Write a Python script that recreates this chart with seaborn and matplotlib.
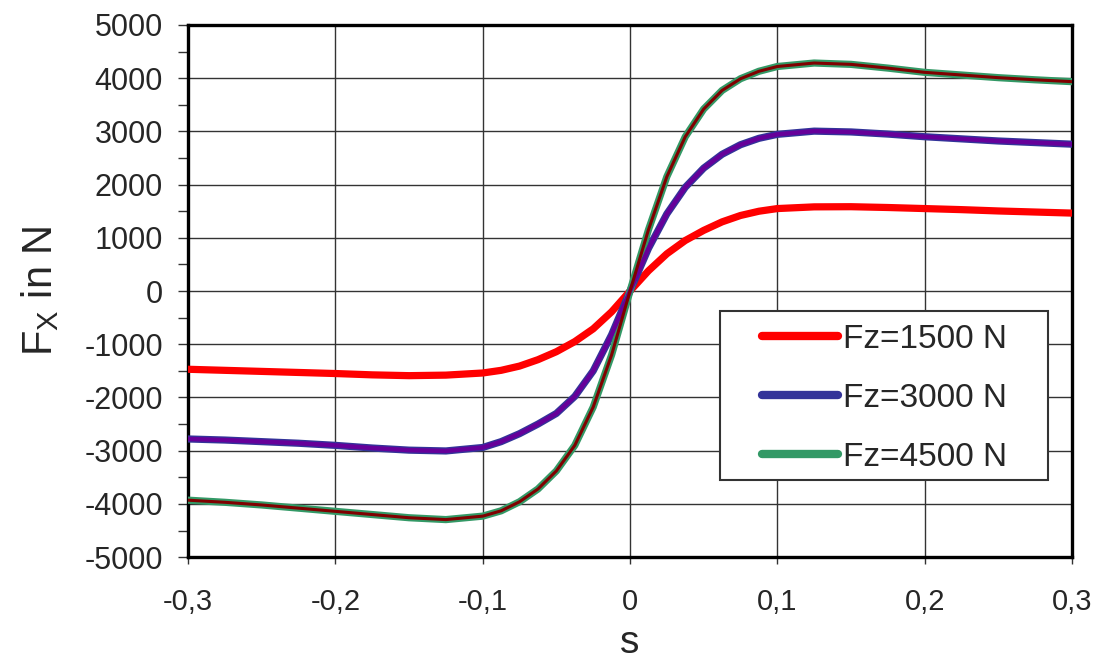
import numpy as np
import pandas as pd
import matplotlib
matplotlib.use("Agg")
import matplotlib.pyplot as plt
import seaborn as sns
from matplotlib.patches import Rectangle
from matplotlib.ticker import FuncFormatter, MultipleLocator

# ---- data ----
slip = [-0.3, -0.275, -0.25, -0.225, -0.2, -0.175, -0.15, -0.125, -0.1, -0.0875,
        -0.075, -0.0625, -0.05, -0.0375, -0.025, -0.0125, 0.0,
        0.0125, 0.025, 0.0375, 0.05, 0.0625, 0.075, 0.0875, 0.1,
        0.125, 0.15, 0.175, 0.2, 0.225, 0.25, 0.275, 0.3]

fx_1500 = [-1470, -1490, -1510, -1530, -1550, -1575, -1590, -1580, -1540, -1490,
           -1410, -1290, -1140, -950, -710, -390, 0,
           380, 700, 950, 1140, 1300, 1420, 1500, 1550,
           1582, 1585, 1570, 1550, 1530, 1505, 1485, 1465]

fx_3000 = [-2780, -2800, -2830, -2860, -2900, -2950, -2990, -3005, -2940, -2830,
           -2680, -2500, -2300, -1980, -1500, -820, 0,
           800, 1450, 1950, 2310, 2570, 2750, 2870, 2945,
           3005, 2990, 2950, 2900, 2860, 2820, 2790, 2760]

fx_4500 = [-3930, -3970, -4020, -4080, -4140, -4200, -4260, -4295, -4230, -4130,
           -3960, -3720, -3380, -2900, -2180, -1200, 0,
           1150, 2150, 2900, 3420, 3770, 3990, 4130, 4220,
           4285, 4260, 4190, 4110, 4060, 4010, 3970, 3935]

labels = ["Fz=1500 N", "Fz=3000 N", "Fz=4500 N"]
series = [fx_1500, fx_3000, fx_4500]
colors = ["#ff0000", "#333399", "#339966"]
overlay_colors = [None, "#660099", "#800000"]

xticks = [-0.3, -0.2, -0.1, 0.0, 0.1, 0.2, 0.3]
yticks = list(range(-5000, 5001, 1000))

df = pd.concat([pd.DataFrame({"s": slip, "Fx": v, "Fz": lab})
                for v, lab in zip(series, labels)], ignore_index=True)

sns.set_theme(style="white")
plt.rcParams["font.family"] = ["Liberation Sans", "DejaVu Sans"]
plt.rcParams["mathtext.fontset"] = "custom"
plt.rcParams["mathtext.rm"] = "Liberation Sans"

fig = plt.figure(figsize=(11, 6.68), dpi=100)
ax = fig.add_axes([0.171, 0.166, 0.8035, 0.7966])

sns.lineplot(data=df, x="s", y="Fx", hue="Fz", palette=dict(zip(labels, colors)),
             linewidth=5.2, ax=ax, sort=True, zorder=3)

# inner core colours as seen on the reference
for v, oc, lw in zip(series, overlay_colors, [0, 3.2, 2.2]):
    if oc is not None:
        ax.plot(slip, v, color=oc, linewidth=lw, zorder=4, solid_capstyle="round")

ax.set_xlim(-0.3, 0.3)
ax.set_ylim(-5000, 5000)
ax.set_xticks(xticks)
ax.set_yticks(yticks)
ax.yaxis.set_minor_locator(MultipleLocator(500))
ax.xaxis.set_major_formatter(FuncFormatter(
    lambda v, p: "0" if abs(v) < 1e-9 else f"{v:.1f}".replace(".", ",")))
ax.yaxis.set_major_formatter(FuncFormatter(lambda v, p: f"{int(round(v))}"))

ax.grid(True, which="major", color="#333333", linewidth=1.0)
ax.set_axisbelow(True)
for sp in ax.spines.values():
    sp.set_color("black")
    sp.set_linewidth(2.4)

ax.tick_params(axis="y", which="both", direction="out", length=7, width=1,
               color="#333333", labelsize=22, pad=11, left=True)
ax.tick_params(axis="x", which="major", direction="out", length=5, width=1,
               color="#333333", labelsize=21, pad=17, bottom=True)

ax.set_xlabel("s", fontsize=28, labelpad=7)
ax.set_ylabel(r"$\mathregular{F_X}$ in N", fontsize=30, labelpad=17)

# legend frame (drawn separately for exact placement)
ax.add_patch(Rectangle((0.6018, 0.1447), 0.371, 0.3177, transform=ax.transAxes,
                       facecolor="white", edgecolor="#333333", linewidth=1.5,
                       zorder=5, clip_on=False))
leg = ax.legend(loc="center left", bbox_to_anchor=(0.649, 0.299), fontsize=24,
                frameon=False, handlelength=2.3, handletextpad=0.15,
                labelspacing=0.84, borderpad=0, borderaxespad=0)
leg.set_zorder(6)
for line in leg.get_lines():
    line.set_linewidth(6)
    line.set_solid_capstyle("round")

fig.savefig("out.png", dpi=100, facecolor="white")
